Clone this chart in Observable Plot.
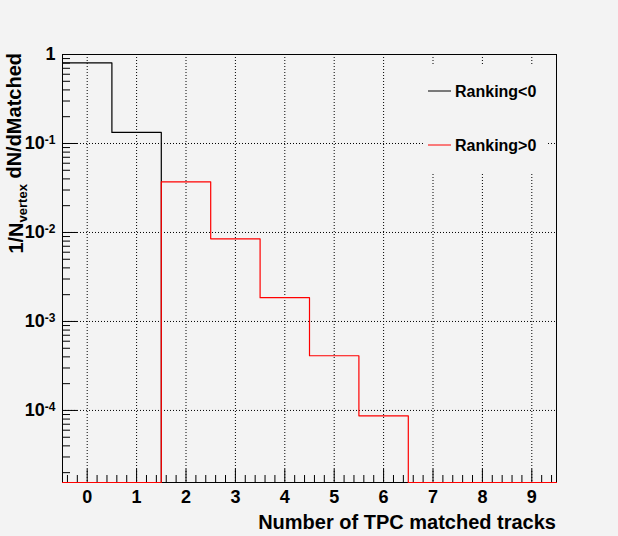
<!DOCTYPE html>
<html>
<head>
<meta charset="utf-8">
<script src="https://cdn.jsdelivr.net/npm/d3@7"></script>
<script src="https://cdn.jsdelivr.net/npm/@observablehq/plot@0.6"></script>
<style>
  html, body { margin: 0; padding: 0; background: #f3f3f3; }
  #chart svg { display: block; }
</style>
</head>
<body>
<div id="chart"></div>
<script>
// ---- data ----
const bins = [0, 1, 2, 3, 4, 5, 6, 7, 8, 9];
const rankingNeg = [0.807, 0.133, 0, 0, 0, 0, 0, 0, 0, 0];
const rankingPos = [0, 0, 0.0371, 0.00849, 0.00185, 0.000412, 0.0000871, 0, 0, 0];
const seriesNames = ["Ranking<0", "Ranking>0"];
const seriesColors = ["#000000", "#ff0000"];
const xTicks = [0, 1, 2, 3, 4, 5, 6, 7, 8, 9];
const yDecades = [1e-4, 1e-3, 1e-2, 1e-1, 1];
const yMin = 1.55e-5, yMax = 1;
const xTitle = "Number of TPC matched tracks";

// ---- layout ----
const W = 618, H = 536;
const mL = 62, mR = 62, mT = 54, mB = 54;
const frameW = W - mL - mR, frameH = H - mT - mB;

// histogram step outlines (zero bins sit on the bottom edge)
function steps(vals) {
  const pts = [];
  bins.forEach((b, i) => {
    const v = vals[i] > 0 ? vals[i] : yMin;
    pts.push({x: b - 0.5, y: v}, {x: b + 0.5, y: v});
  });
  return pts;
}

const xMinor = d3.range(-0.4, 9.5, 0.2).map(d => +d.toFixed(2)).filter(d => Math.abs(d - Math.round(d)) > 1e-6);
const yMinor = [];
for (let e = -5; e <= -1; e++) for (let k = 2; k <= 9; k++) {
  const v = k * Math.pow(10, e);
  if (v >= yMin && v <= yMax) yMinor.push(v);
}

const font = "'Liberation Sans', Arial, Helvetica, sans-serif";

const chart = Plot.plot({
  width: W, height: H,
  marginLeft: mL, marginRight: mR, marginTop: mT, marginBottom: mB,
  style: {background: "#f3f3f3", fontFamily: font, fontWeight: "bold", color: "black"},
  x: {domain: [-0.5, 9.5]},
  y: {type: "log", domain: [yMin, yMax]},
  marks: [
    // grid
    Plot.ruleX(xTicks, {x: d => d, stroke: "black", strokeDasharray: "1,2", strokeWidth: 1}),
    Plot.ruleY(yDecades, {y: d => d, stroke: "black", strokeDasharray: "1,2", strokeWidth: 1}),
    // inward ticks
    Plot.ruleX(xTicks, {x: d => d, insetTop: frameH - 13, stroke: "black"}),
    Plot.ruleX(xMinor, {x: d => d, insetTop: frameH - 7, stroke: "black"}),
    Plot.ruleY(yDecades, {y: d => d, insetRight: frameW - 15, stroke: "black"}),
    Plot.ruleY(yMinor, {y: d => d, insetRight: frameW - 8, stroke: "black"}),
    // axes labels
    Plot.axisX(xTicks, {tickSize: 0, tickPadding: 8, fontSize: 18, fontWeight: "bold", label: null, tickFormat: d => String(d)}),
    Plot.axisY(yDecades, {tickSize: 0, tickPadding: 7, fontSize: 18, fontWeight: "bold", label: null,
      tickFormat: d => d === 1 ? "1" : "10^" + Math.round(Math.log10(d))}),
    Plot.frame({stroke: "black", strokeWidth: 1}),
    // histograms
    Plot.line(steps(rankingNeg), {x: "x", y: "y", stroke: seriesColors[0], strokeWidth: 1.2}),
    Plot.line(steps(rankingPos), {x: "x", y: "y", stroke: seriesColors[1], strokeWidth: 1.2})
  ]
});

document.getElementById("chart").appendChild(chart);
const svg = d3.select(chart);

// superscript exponents on y tick labels
svg.selectAll("text").each(function() {
  const t = d3.select(this);
  const s = t.text();
  if (/^10\^/.test(s)) {
    const exp = s.slice(3);
    t.text("");
    t.append("tspan").text("10");
    t.append("tspan").attr("dy", "-0.45em").attr("font-size", 12).text(exp);
  } else if (s === "1" && t.attr("text-anchor") === "end") {
    t.attr("font-size", 20);
  }
});

// x title
svg.append("text")
  .attr("x", W - mR).attr("y", 529)
  .attr("text-anchor", "end")
  .attr("font-family", font).attr("font-weight", "bold").attr("font-size", 20)
  .text(xTitle);

// y title
const yt = svg.append("text")
  .attr("transform", `translate(23,${mT - 1}) rotate(-90)`)
  .attr("text-anchor", "end")
  .attr("font-family", font).attr("font-weight", "bold").attr("font-size", 20);
yt.append("tspan").text("1/N");
yt.append("tspan").attr("dy", "0.3em").attr("font-size", 13).text("vertex");
yt.append("tspan").attr("dy", "-0.3em").text("\u00a0dN/dMatched");

// legend (opaque box, no border)
svg.append("rect")
  .attr("x", 423).attr("y", 64).attr("width", 125).attr("height", 108)
  .attr("fill", "#f3f3f3");
const legendY = [91, 145];
seriesNames.forEach((name, i) => {
  svg.append("line")
    .attr("x1", 428).attr("x2", 451)
    .attr("y1", legendY[i]).attr("y2", legendY[i])
    .attr("stroke", seriesColors[i]).attr("stroke-width", 1);
  svg.append("text")
    .attr("x", 455).attr("y", legendY[i]).attr("dy", "0.36em")
    .attr("text-anchor", "start")
    .attr("font-family", font).attr("font-weight", "bold").attr("font-size", 16)
    .text(name);
});
</script>
</body>
</html>
